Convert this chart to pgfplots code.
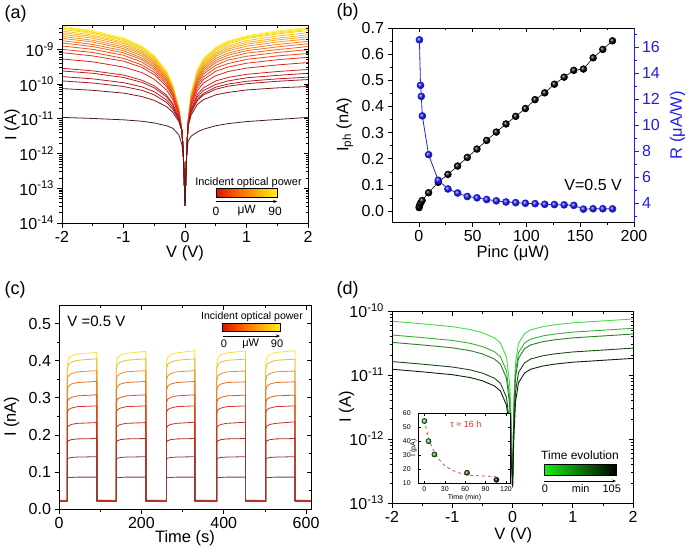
\documentclass[border=0pt]{standalone}
\usepackage{fontspec}
\setmainfont{Liberation Sans}
\usepackage{pgfplots}
\pgfplotsset{compat=1.18}
\usepackage{pgfplotstable}
\usetikzlibrary{arrows.meta}

% (a) curve colours, dark -> yellow
\definecolor{ca1}{RGB}{75,30,30}
\definecolor{ca2}{RGB}{120,25,25}
\definecolor{ca3}{RGB}{160,25,35}
\definecolor{ca4}{RGB}{180,25,30}
\definecolor{ca5}{RGB}{195,25,30}
\definecolor{ca6}{RGB}{210,30,30}
\definecolor{ca7}{RGB}{220,35,25}
\definecolor{ca8}{RGB}{228,50,25}
\definecolor{ca9}{RGB}{233,65,25}
\definecolor{ca10}{RGB}{237,80,25}
\definecolor{ca11}{RGB}{240,97,25}
\definecolor{ca12}{RGB}{242,113,25}
\definecolor{ca13}{RGB}{244,130,25}
\definecolor{ca14}{RGB}{246,147,25}
\definecolor{ca15}{RGB}{247,163,25}
\definecolor{ca16}{RGB}{248,180,25}
\definecolor{ca17}{RGB}{249,195,25}
\definecolor{ca18}{RGB}{250,208,25}
\definecolor{ca19}{RGB}{251,220,25}
\definecolor{ca20}{RGB}{252,232,30}
\definecolor{ca21}{RGB}{253,242,40}
% (c) trace colours
\definecolor{cc1}{RGB}{125,65,65}
\definecolor{cc2}{RGB}{150,55,55}
\definecolor{cc3}{RGB}{170,45,45}
\definecolor{cc4}{RGB}{195,45,40}
\definecolor{cc5}{RGB}{210,60,35}
\definecolor{cc6}{RGB}{220,85,35}
\definecolor{cc7}{RGB}{230,115,40}
\definecolor{cc8}{RGB}{235,145,45}
\definecolor{cc9}{RGB}{242,180,45}
\definecolor{cc10}{RGB}{248,225,60}
% (d) colours
\definecolor{cd1}{RGB}{70,220,70}
\definecolor{cd2}{RGB}{55,175,55}
\definecolor{cd3}{RGB}{35,130,35}
\definecolor{cd4}{RGB}{25,75,25}
\definecolor{cd5}{RGB}{15,30,15}
\definecolor{rblue}{RGB}{30,30,230}
\definecolor{fitred}{RGB}{215,50,50}
% colour bar
\definecolor{hk0}{RGB}{50,0,0}
\definecolor{hk1}{RGB}{210,0,0}
\definecolor{hk2}{RGB}{255,110,0}
\definecolor{hk3}{RGB}{255,220,20}
\definecolor{hk4}{RGB}{255,255,100}
\definecolor{hk5}{RGB}{255,255,232}
\pgfdeclarehorizontalshading{hotbar}{100bp}{color(0bp)=(hk0); color(20bp)=(hk1); color(45bp)=(hk2); color(70bp)=(hk3); color(85bp)=(hk4); color(100bp)=(hk5)}

\pgfplotsset{
  panel/.style={
    scale only axis, anchor=south west,
    axis line style={line width=0.7pt},
    major tick length=4.5pt, minor tick length=2.5pt,
    every tick/.style={line width=0.6pt, black},
    tick label style={font=\fontsize{16}{18}\selectfont},
    label style={font=\fontsize{16.5}{19}\selectfont},
    /pgf/number format/assume math mode=true,
  },
  % ticks point out on the bottom and left ...
  outer/.style={xtick pos=left, ytick pos=left, tick align=outside},
  % ... and in on the top and right
  mirror/.style={xtick pos=right, ytick pos=right, tick align=inside,
    xticklabels={}, yticklabels={}},
  pa/.style={at={(62pt,-223pt)}, width=246pt, height=198pt,
    xmin=-2, xmax=2, ymin=-14, ymax=-8.3,
    xtick={-2,-1,0,1,2}, minor xtick={-1.5,-0.5,0.5,1.5},
    ytick={-14,-13,-12,-11,-10,-9},
    minor ytick={-13.699,-13.523,-13.398,-13.301,-13.222,-13.155,-13.097,-13.046,
      -12.699,-12.523,-12.398,-12.301,-12.222,-12.155,-12.097,-12.046,
      -11.699,-11.523,-11.398,-11.301,-11.222,-11.155,-11.097,-11.046,
      -10.699,-10.523,-10.398,-10.301,-10.222,-10.155,-10.097,-10.046,
      -9.699,-9.523,-9.398,-9.301,-9.222,-9.155,-9.097,-9.046,
      -8.699,-8.523,-8.398}},
  pb/.style={at={(392pt,-222pt)}, width=242pt, height=194pt,
    xmin=-25, xmax=200, xtick={0,50,100,150,200}, minor xtick={25,75,125,175}},
  pc/.style={at={(59pt,-509pt)}, width=252pt, height=204pt,
    xmin=0, xmax=612, ymin=0, ymax=0.55,
    xtick={0,200,400,600}, minor xtick={100,300,500},
    ytick={0,0.1,0.2,0.3,0.4,0.5}, minor ytick={0.05,0.15,0.25,0.35,0.45}},
  pd/.style={at={(392pt,-503pt)}, width=241pt, height=192pt,
    xmin=-2, xmax=2, ymin=-13, ymax=-10,
    xtick={-2,-1,0,1,2}, minor xtick={-1.5,-0.5,0.5,1.5},
    ytick={-13,-12,-11,-10},
    minor ytick={-12.699,-12.523,-12.398,-12.301,-12.222,-12.155,-12.097,-12.046,
      -11.699,-11.523,-11.398,-11.301,-11.222,-11.155,-11.097,-11.046,
      -10.699,-10.523,-10.398,-10.301,-10.222,-10.155,-10.097,-10.046}},
}

% (a) log10 of I (A) vs V, 21 curves, dark -> yellow
\pgfplotstableread{
V c1 c2 c3 c4 c5 c6 c7 c8 c9 c10 c11 c12 c13 c14 c15 c16 c17 c18 c19 c20 c21
-2 -10.96 -10.13 -9.91 -9.785 -9.623 -9.546 -9.278 -9.096 -9.0 -8.904 -8.818 -8.751 -8.684 -8.626 -8.569 -8.52 -8.473 -8.425 -8.39 -8.368 -8.34
-1.5 -10.99 -10.18 -9.97 -9.85 -9.69 -9.62 -9.36 -9.19 -9.09 -9.00 -8.92 -8.86 -8.79 -8.74 -8.68 -8.63 -8.59 -8.54 -8.51 -8.49 -8.46
-1 -11.03 -10.26 -10.07 -9.96 -9.81 -9.74 -9.51 -9.34 -9.26 -9.17 -9.10 -9.04 -8.98 -8.93 -8.88 -8.83 -8.79 -8.75 -8.72 -8.70 -8.67
-0.7 -11.07 -10.36 -10.18 -10.08 -9.95 -9.89 -9.67 -9.52 -9.45 -9.37 -9.30 -9.25 -9.19 -9.14 -9.10 -9.06 -9.02 -8.98 -8.95 -8.94 -8.91
-0.5 -11.12 -10.47 -10.31 -10.22 -10.11 -10.05 -9.86 -9.73 -9.66 -9.59 -9.53 -9.48 -9.43 -9.39 -9.35 -9.31 -9.28 -9.24 -9.22 -9.20 -9.18
-0.3 -11.20 -10.65 -10.53 -10.46 -10.37 -10.32 -10.17 -10.07 -10.01 -9.96 -9.91 -9.87 -9.83 -9.80 -9.77 -9.74 -9.71 -9.68 -9.66 -9.65 -9.63
-0.2 -11.27 -10.81 -10.72 -10.66 -10.59 -10.56 -10.44 -10.36 -10.32 -10.27 -10.24 -10.21 -10.18 -10.15 -10.13 -10.11 -10.08 -10.06 -10.05 -10.04 -10.03
-0.1 -11.46 -11.08 -11.03 -11.01 -10.97 -10.95 -10.89 -10.85 -10.83 -10.81 -10.79 -10.78 -10.76 -10.75 -10.74 -10.73 -10.72 -10.71 -10.70 -10.69 -10.69
-0.05 -11.75 -11.35 -11.35 -11.35 -11.35 -11.35 -11.35 -11.35 -11.35 -11.35 -11.35 -11.35 -11.35 -11.35 -11.35 -11.35 -11.35 -11.35 -11.35 -11.35 -11.35
-0.03 -12.0 -11.9 -11.9 -11.9 -11.9 -11.9 -11.9 -11.9 -11.9 -11.9 -11.9 -11.9 -11.9 -11.9 -11.9 -11.9 -11.9 -11.9 -11.9 -11.9 -11.9
-0.015 -12.65 -12.6 -12.6 -12.6 -12.6 -12.6 -12.6 -12.6 -12.6 -12.6 -12.6 -12.6 -12.6 -12.6 -12.6 -12.6 -12.6 -12.6 -12.6 -12.6 -12.6
0 -13.5 -13.5 -13.5 -13.5 -13.5 -13.5 -13.5 -13.5 -13.5 -13.5 -13.5 -13.5 -13.5 -13.5 -13.5 -13.5 -13.5 -13.5 -13.5 -13.5 -13.5
0.015 -12.65 -12.6 -12.6 -12.6 -12.6 -12.6 -12.6 -12.6 -12.6 -12.6 -12.6 -12.6 -12.6 -12.6 -12.6 -12.6 -12.6 -12.6 -12.6 -12.6 -12.6
0.03 -12.0 -11.85 -11.85 -11.85 -11.85 -11.85 -11.85 -11.85 -11.85 -11.85 -11.85 -11.85 -11.85 -11.85 -11.85 -11.85 -11.85 -11.85 -11.85 -11.85 -11.85
0.05 -11.65 -11.22 -11.20 -11.20 -11.18 -11.17 -11.15 -11.14 -11.13 -11.12 -11.11 -11.10 -11.09 -11.09 -11.08 -11.07 -11.07 -11.06 -11.06 -11.06 -11.05
0.1 -11.5 -10.89 -10.82 -10.79 -10.75 -10.71 -10.64 -10.59 -10.55 -10.51 -10.48 -10.45 -10.42 -10.40 -10.37 -10.35 -10.33 -10.31 -10.30 -10.29 -10.28
0.2 -11.38 -10.59 -10.48 -10.44 -10.37 -10.30 -10.19 -10.10 -10.03 -9.97 -9.92 -9.87 -9.83 -9.79 -9.75 -9.72 -9.68 -9.65 -9.63 -9.61 -9.59
0.3 -11.30 -10.45 -10.31 -10.27 -10.19 -10.11 -9.97 -9.87 -9.79 -9.71 -9.65 -9.59 -9.54 -9.50 -9.45 -9.41 -9.37 -9.33 -9.31 -9.29 -9.26
0.5 -11.20 -10.31 -10.15 -10.09 -10.01 -9.91 -9.76 -9.63 -9.54 -9.46 -9.38 -9.32 -9.26 -9.20 -9.15 -9.11 -9.06 -9.01 -8.99 -8.96 -8.94
0.7 -11.14 -10.24 -10.06 -10.00 -9.91 -9.81 -9.64 -9.51 -9.41 -9.31 -9.24 -9.17 -9.11 -9.04 -8.99 -8.94 -8.89 -8.84 -8.81 -8.78 -8.76
1 -11.08 -10.17 -9.99 -9.92 -9.82 -9.72 -9.54 -9.40 -9.29 -9.20 -9.11 -9.04 -8.98 -8.91 -8.85 -8.80 -8.75 -8.69 -8.66 -8.64 -8.61
1.5 -11.02 -10.11 -9.92 -9.85 -9.75 -9.64 -9.45 -9.30 -9.19 -9.09 -9.01 -8.93 -8.86 -8.79 -8.73 -8.68 -8.62 -8.56 -8.53 -8.50 -8.47
2 -10.96 -10.07 -9.87 -9.80 -9.69 -9.58 -9.38 -9.23 -9.12 -9.01 -8.92 -8.84 -8.77 -8.70 -8.64 -8.58 -8.52 -8.46 -8.43 -8.40 -8.37
}\dataA

% (c) I (nA) vs time, 10 power levels
\pgfplotstableread{
t p1 p2 p3 p4 p5 p6 p7 p8 p9 p10
0 0.020 0.020 0.021 0.021 0.022 0.022 0.022 0.023 0.023 0.024
20 0.020 0.020 0.021 0.021 0.022 0.022 0.022 0.023 0.023 0.024
20 0.083 0.134 0.180 0.218 0.260 0.287 0.320 0.347 0.377 0.390
23 0.085 0.137 0.184 0.224 0.268 0.296 0.331 0.359 0.390 0.405
30 0.085 0.139 0.187 0.228 0.272 0.301 0.337 0.365 0.396 0.413
45 0.086 0.140 0.189 0.231 0.276 0.305 0.341 0.370 0.401 0.418
92 0.086 0.141 0.190 0.233 0.278 0.308 0.344 0.373 0.405 0.422
92 0.021 0.021 0.022 0.022 0.022 0.023 0.023 0.023 0.024 0.025
139 0.020 0.020 0.021 0.021 0.022 0.022 0.022 0.023 0.023 0.024
139 0.083 0.134 0.180 0.218 0.260 0.287 0.320 0.347 0.377 0.392
142 0.085 0.137 0.184 0.224 0.268 0.296 0.331 0.359 0.390 0.407
149 0.085 0.139 0.187 0.228 0.272 0.301 0.337 0.365 0.396 0.415
164 0.086 0.140 0.189 0.231 0.276 0.305 0.341 0.370 0.401 0.420
211 0.086 0.141 0.190 0.233 0.278 0.308 0.344 0.373 0.405 0.425
211 0.021 0.021 0.022 0.022 0.022 0.023 0.023 0.023 0.024 0.025
261 0.020 0.020 0.021 0.021 0.022 0.022 0.022 0.023 0.023 0.024
261 0.083 0.134 0.180 0.218 0.260 0.287 0.320 0.347 0.377 0.393
264 0.085 0.137 0.184 0.224 0.268 0.296 0.331 0.359 0.390 0.408
271 0.085 0.139 0.187 0.228 0.272 0.301 0.337 0.365 0.396 0.416
286 0.086 0.140 0.189 0.231 0.276 0.305 0.341 0.370 0.401 0.421
330 0.086 0.141 0.190 0.234 0.278 0.308 0.344 0.373 0.405 0.427
330 0.021 0.021 0.022 0.022 0.022 0.023 0.023 0.023 0.024 0.025
383 0.020 0.020 0.021 0.021 0.022 0.022 0.022 0.023 0.023 0.024
383 0.083 0.134 0.180 0.218 0.260 0.287 0.320 0.347 0.377 0.393
386 0.085 0.137 0.184 0.224 0.268 0.296 0.331 0.359 0.390 0.408
393 0.085 0.139 0.187 0.228 0.272 0.301 0.337 0.365 0.396 0.416
408 0.086 0.140 0.189 0.231 0.276 0.305 0.341 0.370 0.401 0.421
453 0.086 0.141 0.190 0.234 0.278 0.307 0.343 0.372 0.404 0.426
453 0.021 0.021 0.022 0.022 0.022 0.023 0.023 0.023 0.024 0.025
502 0.020 0.020 0.021 0.021 0.022 0.022 0.022 0.023 0.023 0.024
502 0.083 0.134 0.180 0.218 0.260 0.287 0.320 0.347 0.377 0.393
505 0.085 0.137 0.184 0.224 0.268 0.296 0.331 0.359 0.390 0.409
512 0.085 0.139 0.187 0.228 0.272 0.301 0.337 0.365 0.396 0.417
527 0.086 0.140 0.189 0.231 0.276 0.305 0.341 0.370 0.401 0.422
573 0.086 0.141 0.190 0.235 0.278 0.307 0.343 0.372 0.404 0.427
573 0.021 0.021 0.022 0.022 0.022 0.023 0.023 0.023 0.024 0.025
612 0.020 0.020 0.021 0.021 0.022 0.022 0.022 0.023 0.023 0.024
}\dataC

% (d) log10 of I (A) vs V, 0 ... 105 min
\pgfplotstableread{
V d1 d2 d3 d4 d5
-2 -10.16 -10.375 -10.49 -10.79 -10.91
-1.5 -10.20 -10.415 -10.53 -10.83 -10.95
-1 -10.245 -10.46 -10.575 -10.875 -10.995
-0.7 -10.29 -10.505 -10.62 -10.92 -11.04
-0.5 -10.34 -10.555 -10.67 -10.97 -11.09
-0.3 -10.42 -10.635 -10.75 -11.05 -11.17
-0.2 -10.50 -10.715 -10.83 -11.13 -11.25
-0.1 -10.72 -10.935 -11.05 -11.35 -11.47
-0.05 -11.11 -11.325 -11.44 -11.74 -11.86
-0.02 -11.66 -11.875 -11.99 -12.29 -12.41
-0.008 -12.45 -12.45 -12.45 -12.45 -12.5
0 -12.75 -12.75 -12.75 -12.75 -12.75
0.008 -12.45 -12.45 -12.45 -12.45 -12.5
0.02 -11.425 -11.57 -11.66 -11.88 -12.04
0.05 -10.805 -10.95 -11.04 -11.26 -11.42
0.1 -10.505 -10.65 -10.74 -10.96 -11.12
0.2 -10.355 -10.50 -10.59 -10.81 -10.97
0.3 -10.295 -10.44 -10.53 -10.75 -10.91
0.5 -10.245 -10.39 -10.48 -10.70 -10.86
0.7 -10.215 -10.36 -10.45 -10.67 -10.83
1 -10.185 -10.33 -10.42 -10.64 -10.80
1.5 -10.155 -10.30 -10.39 -10.61 -10.77
2 -10.125 -10.27 -10.36 -10.58 -10.74
}\dataD

\begin{document}
\begin{tikzpicture}
\path[use as bounding box] (0pt,0pt) rectangle (685pt,-549pt);

% ---------------- (a)
\begin{axis}[panel, pa, outer,
  yticklabels={10\textsuperscript{-14},10\textsuperscript{-13},10\textsuperscript{-12},10\textsuperscript{-11},10\textsuperscript{-10},10\textsuperscript{-9}},
  xlabel={V (V)}, ylabel={I (A)},
  xlabel style={at={(axis description cs:0.5,-0.152)}, anchor=center},
  ylabel style={at={(axis description cs:-0.203,0.495)}, anchor=center},
]
\pgfplotsinvokeforeach{21,20,...,1}{
  \addplot[draw=ca#1, line width=0.8pt] table[x index=0, y index=#1] {\dataA};
}
\end{axis}
\begin{axis}[panel, pa, mirror]
\end{axis}

% ---------------- (b)
\begin{axis}[panel, pb, outer,
  ymin=-0.042, ymax=0.7,
  ytick={0,0.1,0.2,0.3,0.4,0.5,0.6,0.7},
  minor ytick={0.05,0.15,0.25,0.35,0.45,0.55,0.65},
  yticklabel style={/pgf/number format/.cd, fixed, fixed zerofill, precision=1},
  xlabel={Pinc (μW)}, ylabel={I\textsubscript{ph} (nA)},
  xlabel style={at={(axis description cs:0.5,-0.16)}, anchor=center},
  ylabel style={at={(axis description cs:-0.195,0.5)}, anchor=center},
]
\addplot[black, line width=0.6pt, mark=ball, mark size=3.4pt, mark options={ball color=black}] coordinates {
  (0.2,0.013) (0.5,0.020) (1.5,0.030) (3,0.040) (9,0.070) (18,0.110) (27,0.140)
  (36,0.172) (45,0.205) (54,0.237) (63,0.270) (72,0.302) (81,0.333) (90,0.362)
  (99,0.392) (108,0.426) (117,0.452) (126,0.485) (135,0.512) (144,0.538)
  (153,0.543) (162,0.586) (171,0.618) (180,0.651)
};
\node[font=\fontsize{16}{18}\selectfont] at (axis cs:162,0.098) {V=0.5 V};
\end{axis}
\begin{axis}[panel, pb, ymin=-0.042, ymax=0.7, xtick pos=right, tick align=inside,
  xticklabels={}, ytick=\empty]
\end{axis}
\begin{axis}[panel, pb, ymin=2.54, ymax=17.46,
  axis x line=none, axis y line*=right, tick align=outside,
  ytick={4,6,8,10,12,14,16}, minor ytick={3,5,7,9,11,13,15,17},
  y axis line style={rblue, line width=0.7pt},
  ytick style={rblue}, yticklabel style={rblue},
  ylabel={R (μA/W)},
  ylabel style={rblue, at={(axis description cs:1.18,0.5)}, anchor=center},
]
\addplot[rblue, line width=0.8pt, mark=ball, mark size=3.4pt, mark options={ball color=rblue}] coordinates {
  (0.5,16.55) (1.5,13.05) (2.3,12.2) (3.2,10.7) (9,7.72) (18,5.75) (27,5.08)
  (36,4.77) (45,4.50) (54,4.40) (63,4.27) (72,4.17) (81,4.08) (90,4.03)
  (99,3.98) (108,3.95) (117,3.90) (126,3.88) (135,3.86) (144,3.82)
  (153,3.53) (162,3.56) (171,3.56) (180,3.55)
};
\end{axis}

% ---------------- (c)
\begin{axis}[panel, pc, outer,
  yticklabel style={/pgf/number format/.cd, fixed, fixed zerofill, precision=1},
  xlabel={Time (s)}, ylabel={I (nA)},
  xlabel style={at={(axis description cs:0.5,-0.141)}, anchor=center},
  ylabel style={at={(axis description cs:-0.188,0.452)}, anchor=center},
]
\pgfplotsinvokeforeach{10,9,...,1}{
  \addplot[draw=cc#1, line width=0.8pt] table[x index=0, y index=#1] {\dataC};
}
\node[anchor=west, font=\fontsize{15}{17}\selectfont] at (axis cs:12,0.505) {V =0.5 V};
\end{axis}
\begin{axis}[panel, pc, mirror]
\end{axis}

% ---------------- (d)
\begin{axis}[panel, pd, outer,
  yticklabels={10\textsuperscript{-13},10\textsuperscript{-12},10\textsuperscript{-11},10\textsuperscript{-10}},
  xlabel={V (V)}, ylabel={I (A)},
  xlabel style={at={(axis description cs:0.503,-0.167)}, anchor=center},
  ylabel style={at={(axis description cs:-0.188,0.5)}, anchor=center},
]
\pgfplotsinvokeforeach{1,...,5}{
  \addplot[draw=cd#1, line width=0.9pt] table[x index=0, y index=#1] {\dataD};
}
\end{axis}
\begin{axis}[panel, pd, mirror]
\end{axis}

% inset of (d)
\begin{axis}[panel, at={(418.3pt,-483.3pt)}, width=92.4pt, height=70.3pt,
  axis background/.style={fill=white},
  xmin=-9, xmax=127, ymin=10, ymax=60,
  xtick={0,30,60,90,120}, ytick={10,20,30,40,50,60},
  tick align=inside, major tick length=2.5pt,
  axis line style={line width=0.5pt},
  tick label style={font=\fontsize{7}{8}\selectfont},
  yticklabel style={xshift=-4pt},
  label style={font=\fontsize{7}{8}\selectfont},
  xlabel={Time (min)}, ylabel={I (pA)},
  xlabel style={at={(axis description cs:0.5,-0.2)}, anchor=center},
  ylabel style={at={(axis description cs:-0.05,0.5)}, anchor=center},
]
\addplot[fitred, dashed, line width=0.7pt] coordinates {
  (0,55) (3,48) (6,42) (10,37) (15,32) (20,28) (25,25) (30,22.5) (40,19.5)
  (50,17.5) (60,16.3) (70,15.6) (80,15.3) (90,15.1) (105,15)
};
\addplot[only marks, mark=ball, mark size=2.6pt, mark options={ball color=cd1}] coordinates {(0,54.3)};
\addplot[only marks, mark=ball, mark size=2.6pt, mark options={ball color=cd1}] coordinates {(6,40)};
\addplot[only marks, mark=ball, mark size=2.6pt, mark options={ball color=cd2!70!cd1}] coordinates {(14.7,30.5)};
\addplot[only marks, mark=ball, mark size=2.6pt, mark options={ball color=cd3}] coordinates {(62.7,17.5)};
\addplot[only marks, mark=ball, mark size=2.6pt, mark options={ball color=cd5}] coordinates {(106,12.5)};
\node[text=fitred, font=\fontsize{9}{10}\selectfont] at (axis cs:61,52) {τ ≈ 16 h};
\end{axis}

% panel letters
\node[anchor=west, font=\fontsize{18}{20}\selectfont] at (1pt,-13.5pt) {(a)};
\node[anchor=west, font=\fontsize{18}{20}\selectfont] at (333pt,-12pt) {(b)};
\node[anchor=west, font=\fontsize{18}{20}\selectfont] at (1pt,-290pt) {(c)};
\node[anchor=west, font=\fontsize{18}{20}\selectfont] at (333pt,-290pt) {(d)};

% colour bar (a)
\node[font=\fontsize{11}{12}\selectfont] at (248.5pt,-182.5pt) {Incident optical power};
\shade[shading=hotbar] (216pt,-197.3pt) rectangle (277.3pt,-188.3pt);
\draw[line width=0.5pt] (216pt,-197.3pt) rectangle (277.3pt,-188.3pt);
\draw[line width=0.6pt, -{Stealth[length=4pt]}] (216pt,-201.5pt) -- (277.3pt,-201.5pt);
\node[font=\fontsize{12}{13}\selectfont] at (216pt,-211pt) {0};
\node[font=\fontsize{12}{13}\selectfont] at (246.7pt,-211pt) {μW};
\node[font=\fontsize{12}{13}\selectfont] at (275pt,-211pt) {90};

% colour bar (c)
\node[font=\fontsize{10.5}{12}\selectfont] at (252pt,-316.5pt) {Incident optical power};
\shade[shading=hotbar] (222.7pt,-331.7pt) rectangle (280pt,-323.3pt);
\draw[line width=0.5pt] (222.7pt,-331.7pt) rectangle (280pt,-323.3pt);
\draw[line width=0.6pt, -{Stealth[length=4pt]}] (222.7pt,-336pt) -- (280pt,-336pt);
\node[font=\fontsize{11}{12}\selectfont] at (224pt,-344pt) {0};
\node[font=\fontsize{11}{12}\selectfont] at (250.7pt,-344pt) {μW};
\node[font=\fontsize{11}{12}\selectfont] at (277pt,-344pt) {90};

% colour bar (d)
\node[font=\fontsize{12}{14}\selectfont] at (580pt,-455pt) {Time evolution};
\shade[left color={rgb,255:red,20;green,240;blue,20}, right color=black] (544pt,-475pt) rectangle (616pt,-464.3pt);
\draw[line width=0.5pt] (544pt,-475pt) rectangle (616pt,-464.3pt);
\draw[line width=0.6pt, -{Stealth[length=4pt]}] (544pt,-481pt) -- (616pt,-481pt);
\node[font=\fontsize{11}{12}\selectfont] at (545pt,-489pt) {0};
\node[font=\fontsize{11}{12}\selectfont] at (580.7pt,-489pt) {min};
\node[font=\fontsize{11}{12}\selectfont] at (611.7pt,-489pt) {105};
\end{tikzpicture}
\end{document}
